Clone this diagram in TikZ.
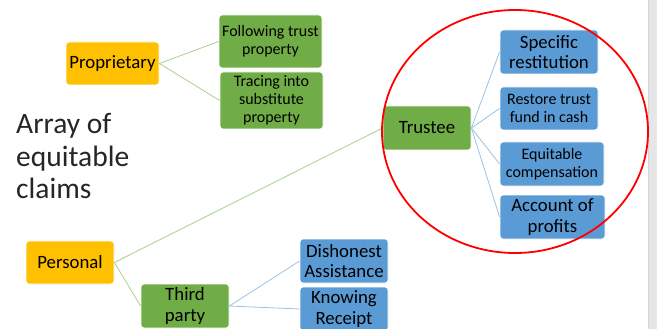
\documentclass[tikz,border=0pt]{standalone}
\usepackage{fontspec}
\setmainfont{Carlito}
\definecolor{orangebox}{HTML}{FFC000}
\definecolor{greenbox}{HTML}{70AD47}
\definecolor{bluebox}{HTML}{5B9BD5}
\definecolor{greenline}{HTML}{A9D18E}
\definecolor{blueline}{HTML}{9DC3E6}
\definecolor{scrollgrey}{HTML}{E6E6E6}
\definecolor{scrolledge}{HTML}{D4D4D4}
\definecolor{titlegrey}{HTML}{262626}
\tikzset{
  box/.style={rectangle, rounded corners=3pt, draw=white, line width=0.8pt, align=center, inner sep=1pt, text=black},
  big/.style={font=\fontsize{18.8}{20.5}\selectfont},
  small/.style={font=\fontsize{16}{18}\selectfont},
  obox/.style={box, big, fill=orangebox},
  gbox/.style={box, fill=greenbox},
  bbox/.style={box, fill=bluebox},
  gline/.style={draw=greenline, line width=0.8pt},
  bline/.style={draw=blueline, line width=0.8pt},
  title/.style={anchor=base west, inner sep=0pt, text=titlegrey, font=\fontsize{29.5}{32}\selectfont},
}
\begin{document}
\begin{tikzpicture}[x=1pt,y=-1pt]
\useasboundingbox (0,0) rectangle (657,329);
\fill[white] (0,0) rectangle (657,329);
% scrollbar
\fill[scrollgrey] (648,0) rectangle (657,329);
\draw[scrolledge, line width=0.6pt] (648.3,0) -- (648.3,329);

% title
\node[title] (t1) at (16,134) {Array of};
\node[title] (t2) at (16,166) {equitable};
\node[title] (t3) at (16,198) {claims};

% nodes
\node[obox, minimum width=93pt, minimum height=43pt] (prop) at (112.5,63.5) {Proprietary};
\node[gbox, small, minimum width=103pt, minimum height=53pt] (follow) at (270.5,41.5) {Following trust\\property};
\node[gbox, small, minimum width=103pt, minimum height=57pt] (trace) at (271.5,100.5) {Tracing into\\substitute\\property};
\node[gbox, big, minimum width=88pt, minimum height=44pt] (trustee) at (427,128) {Trustee};
\node[bbox, big, minimum width=98pt, minimum height=44pt] (spec) at (549,52) {Specific\\restitution};
\node[bbox, small, minimum width=98pt, minimum height=43pt] (restore) at (549,108.5) {Restore trust\\fund in cash};
\node[bbox, small, minimum width=104pt, minimum height=44pt] (equit) at (552,164) {Equitable\\compensation};
\node[bbox, big, minimum width=105pt, minimum height=44pt] (account) at (552.5,217) {Account of\\profits};
\node[obox, minimum width=88pt, minimum height=43pt] (pers) at (70,262.5) {Personal};
\node[gbox, big, minimum width=88pt, minimum height=44pt] (third) at (185,306) {Third\\party};
\node[bbox, big, minimum width=88pt, minimum height=44pt] (dish) at (344,261) {Dishonest\\Assistance};
\node[bbox, big, minimum width=88pt, minimum height=44pt] (know) at (344,309) {Knowing\\Receipt};

% connectors
\draw[gline] (prop.east) -- (follow.west);
\draw[gline] (prop.east) -- (trace.west);
\draw[gline] (pers.east) -- (trustee.west);
\draw[gline] (pers.east) -- (third.west);
\draw[bline] (trustee.east) -- (spec.west);
\draw[bline] (trustee.east) -- (restore.west);
\draw[bline] (trustee.east) -- (equit.west);
\draw[bline] (trustee.east) -- (account.west);
\draw[bline] (third.east) -- (dish.west);
\draw[bline] (third.east) -- (know.west);

% red ellipse
\draw[red, line width=1.8pt] (515,131.5) ellipse [x radius=133pt, y radius=121.5pt];
\end{tikzpicture}
\end{document}
